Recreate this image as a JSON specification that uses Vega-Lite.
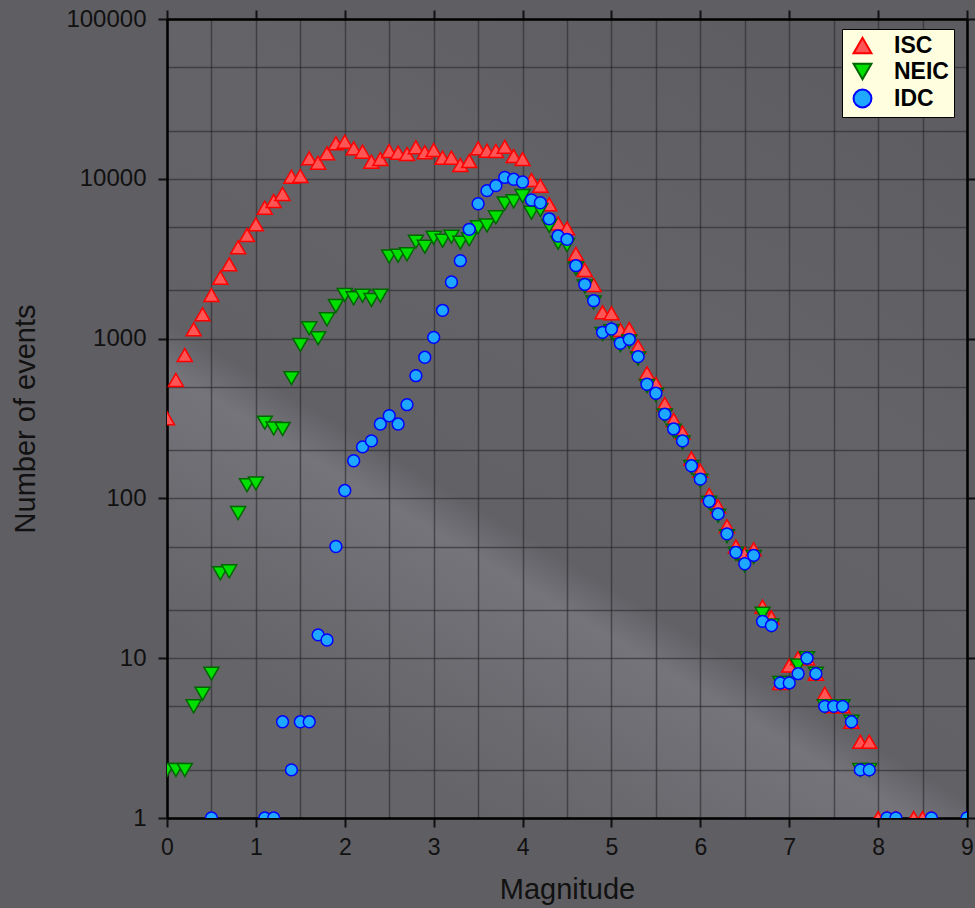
{
  "$schema": "https://vega.github.io/schema/vega-lite/v6.json",
  "width": 800,
  "height": 799,
  "autosize": {"type": "none"},
  "padding": {"left": 167, "top": 19, "right": 8, "bottom": 90},
  "background": "#5f5e63",
  "config": {
    "font": "Liberation Sans",
    "view": {
      "stroke": null,
      "fill": {
        "gradient": "linear",
        "x1": 1, "y1": 0, "x2": 0.4, "y2": 1,
        "stops": [
          {"offset": 0, "color": "#5c5b60"},
          {"offset": 0.45, "color": "#646368"},
          {"offset": 0.72, "color": "#626166"},
          {"offset": 0.765, "color": "#75747a"},
          {"offset": 0.9, "color": "#6b6a6f"},
          {"offset": 1, "color": "#656469"}
        ]
      }
    }
  },
  "datasets": {
    "events": [
      {"m": 0.0, "n": 317, "src": "ISC"}, {"m": 0.1, "n": 551, "src": "ISC"}, {"m": 0.2, "n": 789, "src": "ISC"},
      {"m": 0.3, "n": 1143, "src": "ISC"}, {"m": 0.4, "n": 1419, "src": "ISC"}, {"m": 0.5, "n": 1875, "src": "ISC"},
      {"m": 0.6, "n": 2404, "src": "ISC"}, {"m": 0.7, "n": 2917, "src": "ISC"}, {"m": 0.8, "n": 3727, "src": "ISC"},
      {"m": 0.9, "n": 4448, "src": "ISC"}, {"m": 1.0, "n": 5190, "src": "ISC"}, {"m": 1.1, "n": 6590, "src": "ISC"},
      {"m": 1.2, "n": 7260, "src": "ISC"}, {"m": 1.3, "n": 8040, "src": "ISC"}, {"m": 1.4, "n": 10310, "src": "ISC"},
      {"m": 1.5, "n": 10420, "src": "ISC"}, {"m": 1.6, "n": 13430, "src": "ISC"}, {"m": 1.7, "n": 12610, "src": "ISC"},
      {"m": 1.8, "n": 14430, "src": "ISC"}, {"m": 1.9, "n": 16670, "src": "ISC"}, {"m": 2.0, "n": 17060, "src": "ISC"},
      {"m": 2.1, "n": 15520, "src": "ISC"}, {"m": 2.2, "n": 14790, "src": "ISC"}, {"m": 2.3, "n": 12790, "src": "ISC"},
      {"m": 2.4, "n": 13300, "src": "ISC"}, {"m": 2.5, "n": 14930, "src": "ISC"}, {"m": 2.6, "n": 14560, "src": "ISC"},
      {"m": 2.7, "n": 14290, "src": "ISC"}, {"m": 2.8, "n": 15740, "src": "ISC"}, {"m": 2.9, "n": 14660, "src": "ISC"},
      {"m": 3.0, "n": 15140, "src": "ISC"}, {"m": 3.1, "n": 13550, "src": "ISC"}, {"m": 3.2, "n": 13550, "src": "ISC"},
      {"m": 3.3, "n": 12200, "src": "ISC"}, {"m": 3.4, "n": 12920, "src": "ISC"}, {"m": 3.5, "n": 15520, "src": "ISC"},
      {"m": 3.6, "n": 15000, "src": "ISC"}, {"m": 3.7, "n": 14930, "src": "ISC"}, {"m": 3.8, "n": 15850, "src": "ISC"},
      {"m": 3.9, "n": 13880, "src": "ISC"}, {"m": 4.0, "n": 13300, "src": "ISC"}, {"m": 4.1, "n": 9820, "src": "ISC"},
      {"m": 4.2, "n": 9060, "src": "ISC"}, {"m": 4.3, "n": 6920, "src": "ISC"}, {"m": 4.4, "n": 5260, "src": "ISC"},
      {"m": 4.5, "n": 4900, "src": "ISC"}, {"m": 4.6, "n": 3390, "src": "ISC"}, {"m": 4.7, "n": 2690, "src": "ISC"},
      {"m": 4.8, "n": 2165, "src": "ISC"}, {"m": 4.9, "n": 1461, "src": "ISC"}, {"m": 5.0, "n": 1440, "src": "ISC"},
      {"m": 5.1, "n": 1132, "src": "ISC"}, {"m": 5.2, "n": 1148, "src": "ISC"}, {"m": 5.3, "n": 890, "src": "ISC"},
      {"m": 5.4, "n": 607, "src": "ISC"}, {"m": 5.5, "n": 520, "src": "ISC"}, {"m": 5.6, "n": 390, "src": "ISC"},
      {"m": 5.7, "n": 310, "src": "ISC"}, {"m": 5.8, "n": 258, "src": "ISC"}, {"m": 5.9, "n": 178, "src": "ISC"},
      {"m": 6.0, "n": 149, "src": "ISC"}, {"m": 6.1, "n": 105, "src": "ISC"}, {"m": 6.2, "n": 89, "src": "ISC"},
      {"m": 6.3, "n": 67, "src": "ISC"}, {"m": 6.4, "n": 50, "src": "ISC"}, {"m": 6.5, "n": 45, "src": "ISC"},
      {"m": 6.6, "n": 48, "src": "ISC"}, {"m": 6.7, "n": 21, "src": "ISC"}, {"m": 6.8, "n": 18, "src": "ISC"},
      {"m": 6.9, "n": 7, "src": "ISC"}, {"m": 7.0, "n": 9, "src": "ISC"}, {"m": 7.1, "n": 10, "src": "ISC"},
      {"m": 7.2, "n": 10, "src": "ISC"}, {"m": 7.3, "n": 8, "src": "ISC"}, {"m": 7.4, "n": 6, "src": "ISC"},
      {"m": 7.5, "n": 5, "src": "ISC"}, {"m": 7.6, "n": 5, "src": "ISC"}, {"m": 7.7, "n": 4, "src": "ISC"},
      {"m": 7.8, "n": 3, "src": "ISC"}, {"m": 7.9, "n": 3, "src": "ISC"}, {"m": 8.0, "n": 1, "src": "ISC"},
      {"m": 8.1, "n": 1, "src": "ISC"}, {"m": 8.2, "n": 1, "src": "ISC"}, {"m": 8.4, "n": 1, "src": "ISC"},
      {"m": 8.5, "n": 1, "src": "ISC"}, {"m": 8.6, "n": 1, "src": "ISC"},

      {"m": 0.0, "n": 2, "src": "NEIC"}, {"m": 0.1, "n": 2, "src": "NEIC"}, {"m": 0.2, "n": 2, "src": "NEIC"},
      {"m": 0.3, "n": 5, "src": "NEIC"}, {"m": 0.4, "n": 6, "src": "NEIC"}, {"m": 0.5, "n": 8, "src": "NEIC"},
      {"m": 0.6, "n": 34, "src": "NEIC"}, {"m": 0.7, "n": 35, "src": "NEIC"}, {"m": 0.8, "n": 81, "src": "NEIC"},
      {"m": 0.9, "n": 121, "src": "NEIC"}, {"m": 1.0, "n": 124, "src": "NEIC"}, {"m": 1.1, "n": 298, "src": "NEIC"},
      {"m": 1.2, "n": 274, "src": "NEIC"}, {"m": 1.3, "n": 272, "src": "NEIC"}, {"m": 1.4, "n": 565, "src": "NEIC"},
      {"m": 1.5, "n": 912, "src": "NEIC"}, {"m": 1.6, "n": 1160, "src": "NEIC"}, {"m": 1.7, "n": 1005, "src": "NEIC"},
      {"m": 1.8, "n": 1320, "src": "NEIC"}, {"m": 1.9, "n": 1600, "src": "NEIC"}, {"m": 2.0, "n": 1875, "src": "NEIC"},
      {"m": 2.1, "n": 1786, "src": "NEIC"}, {"m": 2.2, "n": 1857, "src": "NEIC"}, {"m": 2.3, "n": 1745, "src": "NEIC"},
      {"m": 2.4, "n": 1857, "src": "NEIC"}, {"m": 2.5, "n": 3260, "src": "NEIC"}, {"m": 2.6, "n": 3300, "src": "NEIC"},
      {"m": 2.7, "n": 3370, "src": "NEIC"}, {"m": 2.8, "n": 4040, "src": "NEIC"}, {"m": 2.9, "n": 3760, "src": "NEIC"},
      {"m": 3.0, "n": 4280, "src": "NEIC"}, {"m": 3.1, "n": 4100, "src": "NEIC"}, {"m": 3.2, "n": 4345, "src": "NEIC"},
      {"m": 3.3, "n": 3980, "src": "NEIC"}, {"m": 3.4, "n": 4180, "src": "NEIC"}, {"m": 3.5, "n": 4970, "src": "NEIC"},
      {"m": 3.6, "n": 5110, "src": "NEIC"}, {"m": 3.7, "n": 5740, "src": "NEIC"}, {"m": 3.8, "n": 7010, "src": "NEIC"},
      {"m": 3.9, "n": 7230, "src": "NEIC"}, {"m": 4.0, "n": 7800, "src": "NEIC"}, {"m": 4.1, "n": 6140, "src": "NEIC"},
      {"m": 4.2, "n": 6380, "src": "NEIC"}, {"m": 4.3, "n": 5070, "src": "NEIC"}, {"m": 4.4, "n": 3980, "src": "NEIC"},
      {"m": 4.5, "n": 3850, "src": "NEIC"}, {"m": 4.6, "n": 2750, "src": "NEIC"}, {"m": 4.7, "n": 2120, "src": "NEIC"},
      {"m": 4.8, "n": 1680, "src": "NEIC"}, {"m": 4.9, "n": 1070, "src": "NEIC"}, {"m": 5.0, "n": 1110, "src": "NEIC"},
      {"m": 5.1, "n": 910, "src": "NEIC"}, {"m": 5.2, "n": 960, "src": "NEIC"}, {"m": 5.3, "n": 750, "src": "NEIC"},
      {"m": 5.4, "n": 505, "src": "NEIC"}, {"m": 5.5, "n": 445, "src": "NEIC"}, {"m": 5.6, "n": 330, "src": "NEIC"},
      {"m": 5.7, "n": 265, "src": "NEIC"}, {"m": 5.8, "n": 224, "src": "NEIC"}, {"m": 5.9, "n": 157, "src": "NEIC"},
      {"m": 6.0, "n": 129, "src": "NEIC"}, {"m": 6.1, "n": 94, "src": "NEIC"}, {"m": 6.2, "n": 78, "src": "NEIC"},
      {"m": 6.3, "n": 58, "src": "NEIC"}, {"m": 6.4, "n": 45, "src": "NEIC"}, {"m": 6.5, "n": 38, "src": "NEIC"},
      {"m": 6.6, "n": 43, "src": "NEIC"}, {"m": 6.7, "n": 19, "src": "NEIC"}, {"m": 6.8, "n": 16, "src": "NEIC"},
      {"m": 6.9, "n": 7, "src": "NEIC"}, {"m": 7.0, "n": 7, "src": "NEIC"}, {"m": 7.1, "n": 9, "src": "NEIC"},
      {"m": 7.2, "n": 10, "src": "NEIC"}, {"m": 7.3, "n": 8, "src": "NEIC"}, {"m": 7.4, "n": 5, "src": "NEIC"},
      {"m": 7.5, "n": 5, "src": "NEIC"}, {"m": 7.6, "n": 5, "src": "NEIC"}, {"m": 7.7, "n": 4, "src": "NEIC"},
      {"m": 7.8, "n": 2, "src": "NEIC"}, {"m": 7.9, "n": 2, "src": "NEIC"},

      {"m": 0.5, "n": 1, "src": "IDC"}, {"m": 1.1, "n": 1, "src": "IDC"}, {"m": 1.2, "n": 1, "src": "IDC"},
      {"m": 1.3, "n": 4, "src": "IDC"}, {"m": 1.4, "n": 2, "src": "IDC"}, {"m": 1.5, "n": 4, "src": "IDC"},
      {"m": 1.6, "n": 4, "src": "IDC"}, {"m": 1.7, "n": 14, "src": "IDC"}, {"m": 1.8, "n": 13, "src": "IDC"},
      {"m": 1.9, "n": 50, "src": "IDC"}, {"m": 2.0, "n": 112, "src": "IDC"}, {"m": 2.1, "n": 172, "src": "IDC"},
      {"m": 2.2, "n": 210, "src": "IDC"}, {"m": 2.3, "n": 229, "src": "IDC"}, {"m": 2.4, "n": 292, "src": "IDC"},
      {"m": 2.5, "n": 329, "src": "IDC"}, {"m": 2.6, "n": 292, "src": "IDC"}, {"m": 2.7, "n": 386, "src": "IDC"},
      {"m": 2.8, "n": 586, "src": "IDC"}, {"m": 2.9, "n": 764, "src": "IDC"}, {"m": 3.0, "n": 1018, "src": "IDC"},
      {"m": 3.1, "n": 1503, "src": "IDC"}, {"m": 3.2, "n": 2260, "src": "IDC"}, {"m": 3.3, "n": 3073, "src": "IDC"},
      {"m": 3.4, "n": 4830, "src": "IDC"}, {"m": 3.5, "n": 6980, "src": "IDC"}, {"m": 3.6, "n": 8430, "src": "IDC"},
      {"m": 3.7, "n": 9060, "src": "IDC"}, {"m": 3.8, "n": 10200, "src": "IDC"}, {"m": 3.9, "n": 9930, "src": "IDC"},
      {"m": 4.0, "n": 9550, "src": "IDC"}, {"m": 4.1, "n": 7370, "src": "IDC"}, {"m": 4.2, "n": 7080, "src": "IDC"},
      {"m": 4.3, "n": 5620, "src": "IDC"}, {"m": 4.4, "n": 4385, "src": "IDC"}, {"m": 4.5, "n": 4180, "src": "IDC"},
      {"m": 4.6, "n": 2860, "src": "IDC"}, {"m": 4.7, "n": 2183, "src": "IDC"}, {"m": 4.8, "n": 1727, "src": "IDC"},
      {"m": 4.9, "n": 1095, "src": "IDC"}, {"m": 5.0, "n": 1148, "src": "IDC"}, {"m": 5.1, "n": 935, "src": "IDC"},
      {"m": 5.2, "n": 990, "src": "IDC"}, {"m": 5.3, "n": 771, "src": "IDC"}, {"m": 5.4, "n": 518, "src": "IDC"},
      {"m": 5.5, "n": 455, "src": "IDC"}, {"m": 5.6, "n": 337, "src": "IDC"}, {"m": 5.7, "n": 272, "src": "IDC"},
      {"m": 5.8, "n": 229, "src": "IDC"}, {"m": 5.9, "n": 160, "src": "IDC"}, {"m": 6.0, "n": 132, "src": "IDC"},
      {"m": 6.1, "n": 96, "src": "IDC"}, {"m": 6.2, "n": 80, "src": "IDC"}, {"m": 6.3, "n": 60, "src": "IDC"},
      {"m": 6.4, "n": 46, "src": "IDC"}, {"m": 6.5, "n": 39, "src": "IDC"}, {"m": 6.6, "n": 44, "src": "IDC"},
      {"m": 6.7, "n": 17, "src": "IDC"}, {"m": 6.8, "n": 16, "src": "IDC"}, {"m": 6.9, "n": 7, "src": "IDC"},
      {"m": 7.0, "n": 7, "src": "IDC"}, {"m": 7.1, "n": 8, "src": "IDC"}, {"m": 7.2, "n": 10, "src": "IDC"},
      {"m": 7.3, "n": 8, "src": "IDC"}, {"m": 7.4, "n": 5, "src": "IDC"}, {"m": 7.5, "n": 5, "src": "IDC"},
      {"m": 7.6, "n": 5, "src": "IDC"}, {"m": 7.7, "n": 4, "src": "IDC"}, {"m": 7.8, "n": 2, "src": "IDC"},
      {"m": 7.9, "n": 2, "src": "IDC"}, {"m": 8.1, "n": 1, "src": "IDC"}, {"m": 8.2, "n": 1, "src": "IDC"},
      {"m": 8.6, "n": 1, "src": "IDC"}, {"m": 9.0, "n": 1, "src": "IDC"}
    ]
  },
  "data": {"name": "events"},
  "resolve": {"axis": {"x": "independent", "y": "independent"}},
  "layer": [
    {
      "mark": {"type": "point", "filled": true, "opacity": 1, "strokeWidth": 1.5, "clip": true},
      "encoding": {
        "x": {
          "field": "m", "type": "quantitative",
          "scale": {"domain": [0, 9], "nice": false, "zero": false},
          "axis": {
            "orient": "bottom",
            "title": "Magnitude",
            "values": [0, 0.5, 1, 1.5, 2, 2.5, 3, 3.5, 4, 4.5, 5, 5.5, 6, 6.5, 7, 7.5, 8, 8.5, 9],
            "labelExpr": "datum.value % 1 === 0 ? '' + datum.value : ''",
            "labelFontSize": 23, "labelColor": "#111111", "labelPadding": 9, "labelFlush": false,
            "tickColor": "#111111", "tickWidth": 2, "tickSize": 9,
            "tickOpacity": {"condition": {"test": "datum.value % 1 !== 0", "value": 0}, "value": 1},
            "domainColor": "#000000", "domainWidth": 2.5,
            "grid": true, "gridColor": "#28282c", "gridOpacity": 0.6, "gridWidth": 1.5,
            "titleFontSize": 29, "titleFontWeight": "normal", "titleColor": "#111111", "titlePadding": 16
          }
        },
        "y": {
          "field": "n", "type": "quantitative",
          "scale": {"type": "log", "domain": [1, 100000], "nice": false},
          "axis": {
            "orient": "left",
            "title": "Number of events",
            "values": [1, 2, 5, 10, 20, 50, 100, 200, 500, 1000, 2000, 5000, 10000, 20000, 50000, 100000],
            "labelExpr": "indexof([1,10,100,1000,10000,100000], datum.value) >= 0 ? '' + datum.value : ''",
            "labelFontSize": 24, "labelColor": "#111111", "labelPadding": 12, "labelFlush": false,
            "tickColor": "#111111", "tickWidth": 2, "tickSize": 9,
            "tickOpacity": {"condition": {"test": "indexof([1,10,100,1000,10000,100000], datum.value) < 0", "value": 0}, "value": 1},
            "domainColor": "#000000", "domainWidth": 2.5,
            "grid": true, "gridColor": "#28282c", "gridOpacity": 0.6, "gridWidth": 1.5,
            "titleFontSize": 29, "titleFontWeight": "normal", "titleColor": "#111111", "titlePadding": 25
          }
        },
        "shape": {
          "field": "src", "type": "nominal",
          "scale": {"domain": ["ISC", "NEIC", "IDC"], "range": ["triangle-up", "triangle-down", "circle"]},
          "legend": {
            "title": null, "orient": "none", "legendX": 675, "legendY": 10,
            "fillColor": "#ffffe0", "strokeColor": "#000000", "padding": 5, "symbolOffset": 4,
            "labelFontSize": 23, "labelFontWeight": "bold", "labelColor": "#000000", "labelOffset": 20,
            "symbolStrokeWidth": 2, "rowPadding": 1, "symbolSize": 320
          }
        },
        "fill": {
          "field": "src", "type": "nominal",
          "scale": {"domain": ["ISC", "NEIC", "IDC"], "range": ["#ff5555", "#00e000", "#1ea8ff"]},
          "legend": {
            "title": null, "orient": "none", "legendX": 675, "legendY": 10,
            "fillColor": "#ffffe0", "strokeColor": "#000000", "padding": 5, "symbolOffset": 4,
            "labelFontSize": 23, "labelFontWeight": "bold", "labelColor": "#000000", "labelOffset": 20,
            "symbolStrokeWidth": 2, "rowPadding": 1, "symbolSize": 320
          }
        },
        "stroke": {
          "field": "src", "type": "nominal",
          "scale": {"domain": ["ISC", "NEIC", "IDC"], "range": ["#ff0000", "#006600", "#0000ff"]},
          "legend": {
            "title": null, "orient": "none", "legendX": 675, "legendY": 10,
            "fillColor": "#ffffe0", "strokeColor": "#000000", "padding": 5, "symbolOffset": 4,
            "labelFontSize": 23, "labelFontWeight": "bold", "labelColor": "#000000", "labelOffset": 20,
            "symbolStrokeWidth": 2, "rowPadding": 1, "symbolSize": 320
          }
        },
        "size": {
          "condition": {"test": "datum.src === 'IDC'", "value": 140},
          "value": 225
        }
      }
    },
    {
      "mark": {"type": "point", "opacity": 0},
      "encoding": {
        "x": {
          "field": "m", "type": "quantitative",
          "axis": {
            "orient": "top", "title": null, "labels": false, "grid": false,
            "values": [0, 1, 2, 3, 4, 5, 6, 7, 8, 9],
            "tickColor": "#111111", "tickWidth": 2, "tickSize": 9,
            "domainColor": "#000000", "domainWidth": 2.5
          }
        },
        "y": {
          "field": "n", "type": "quantitative",
          "axis": {
            "orient": "right", "title": null, "labels": false, "grid": false,
            "values": [1, 10, 100, 1000, 10000, 100000],
            "tickColor": "#111111", "tickWidth": 2, "tickSize": 9,
            "domainColor": "#000000", "domainWidth": 2.5
          }
        }
      }
    }
  ]
}
